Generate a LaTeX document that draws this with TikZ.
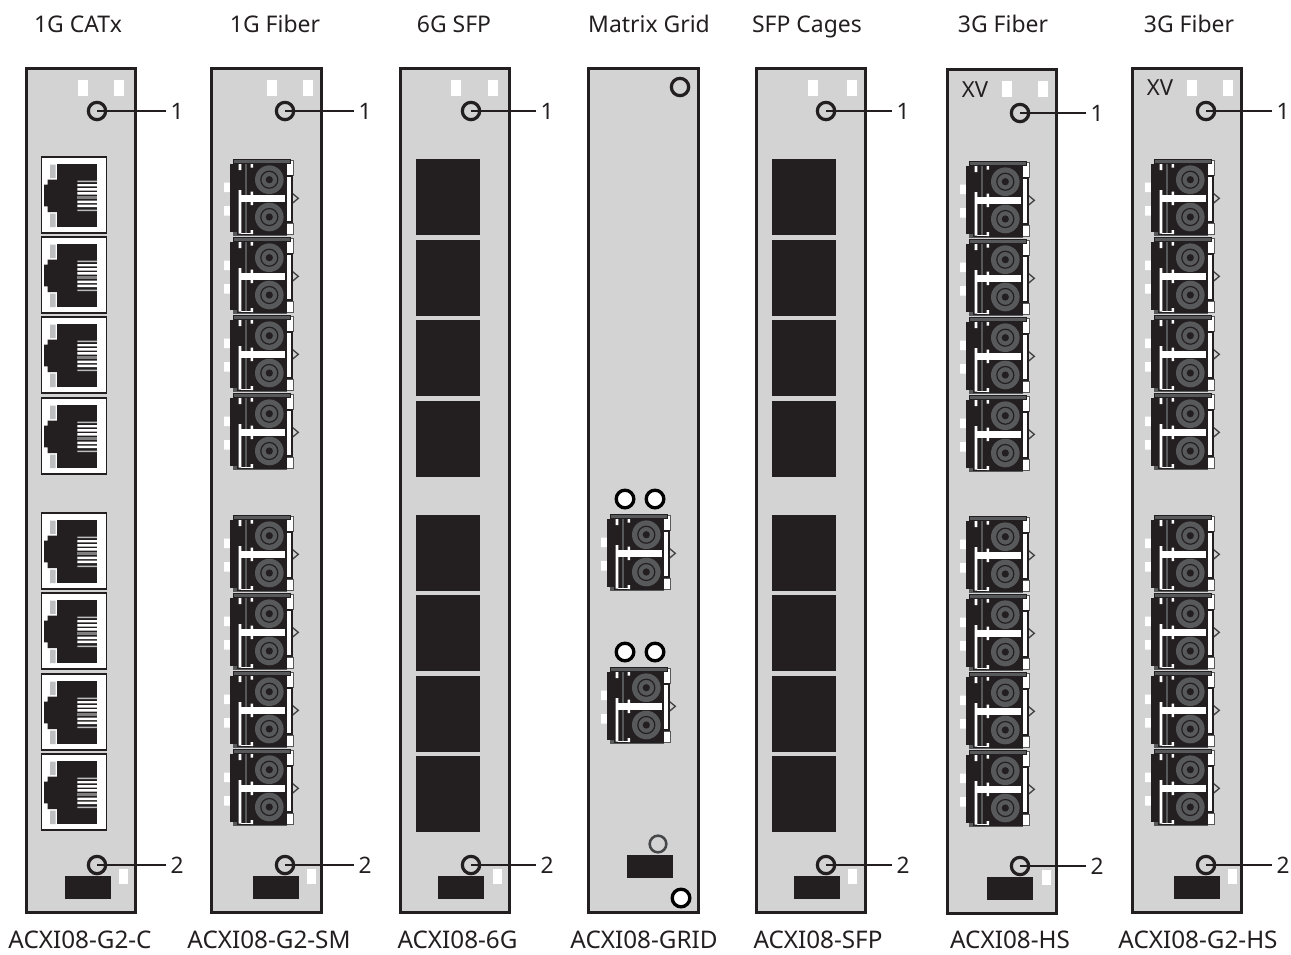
\documentclass[tikz,border=0pt]{standalone}
\usepackage{fontspec}
\setmainfont{Noto Sans}
\definecolor{pnl}{HTML}{D3D3D3}
\definecolor{blk}{HTML}{231F20}
\definecolor{gry}{HTML}{58595B}
\definecolor{lgr}{HTML}{BCBEC0}
\tikzset{
  panelbox/.style={draw=blk,fill=pnl,line width=2.25pt},
  marker/.style={circle,draw=blk,fill=pnl,line width=2.4pt,minimum size=13pt,inner sep=0pt},
  ringw/.style={circle,draw=black,fill=white,line width=2.5pt,minimum size=13.2pt,inner sep=0pt},
  ringg/.style={circle,draw=gry!80!black,fill=pnl,line width=1.9pt,minimum size=12.5pt,inner sep=0pt},
  callout/.style={draw=blk,line width=1.9pt,shorten >=1.5pt},
  txt/.style={text=blk,inner sep=0pt,text height=12.5pt,text depth=0pt},
  toptxt/.style={txt,font=\fontsize{17.2pt}{20pt}\selectfont},
  bottxt/.style={txt,font=\fontsize{18.2pt}{20pt}\selectfont},
  xvtxt/.style={text=blk,inner sep=0pt,font=\fontsize{16.6pt}{20pt}\selectfont},
  num/.style={font=\fontsize{17pt}{20pt}\selectfont,text=blk,inner sep=2pt},
}
% fibre duplex module, origin = top-left of its left bar
\newcommand\fibermod[2]{%
\begin{scope}[shift={(#1,#2)}]
  \fill[white] (-6,23.5) rectangle (0,33) (-6,47) rectangle (0,56.5);
  \draw[fill=white,draw=gry,line width=.7pt] (56.5,1) rectangle (63.7,16);
  \draw[fill=white,draw=gry,line width=.7pt] (56.5,64) rectangle (63.7,75.5);
  \draw[fill=pnl,draw=blk!85,line width=1pt] (61.5,33.7) -- (68.3,39.3) -- (61.5,45) -- cycle;
  \fill[gry] (2.5,5) rectangle (57,76.5);
  \fill[blk] (6.7,5) rectangle (56.8,75.9);
  \fill[gry] (14.7,5) rectangle (17,73.5);
  \fill[white] (8.7,5) rectangle (11.3,11) (8.7,31) rectangle (11.3,74.5);
  \fill[white] (20.7,5) rectangle (23,8.7) (20.7,32.7) rectangle (23,46) (20.7,71) rectangle (23,75);
  \fill[white] (11.3,73.7) rectangle (23,75.2);
  \fill[white] (11.3,36) rectangle (55.3,42.7);
  \foreach \cy in {20.7,58}{
    \fill[gry] (39.3,\cy) circle[radius=14.3];
    \draw[blk,line width=.9pt] (39.3,\cy) circle[radius=8.5];
    \fill[blk] (39.3,\cy) circle[radius=3.6];
  }
  \fill[blk] (0,5) rectangle (6.7,72.7);
  \draw[fill=gry,draw=blk,line width=.7pt] (3.2,0.3) rectangle (60.5,4.3);
  \draw[fill=white,draw=blk,line width=1pt] (56,17) rectangle (62,63);
\end{scope}}
% RJ45 module
\newcommand\rjmod[2]{%
\begin{scope}[shift={(#1,#2)}]
  \draw[fill=white,draw=blk,line width=1.1pt] (0,0) rectangle (65,76);
  \fill[blk] (15,7) rectangle (55.6,70.3);
  \fill[blk] (15.5,22.6) -- (6,22.6) -- (6,27.6) -- (2.3,27.6) -- (2.3,49.3) -- (6,49.3) -- (6,55) -- (15.5,55) -- cycle;
  \fill[lgr] (8.3,7.7) rectangle (14,21) (8.3,56.7) rectangle (14,70);
  \fill[lgr] (35.7,23.7) rectangle (55.5,25) (35.7,52.7) rectangle (55.5,54);
  \fill[gray] (35.7,39.3) rectangle (55.5,42);
  \fill[white] (35.7,27) rectangle (55.5,29.3) (35.7,31) rectangle (55.5,33.7) (35.7,35) rectangle (55.5,37.7)
               (35.7,43.7) rectangle (55.5,46) (35.7,47.7) rectangle (55.5,50);
\end{scope}}
\begin{document}
\begin{tikzpicture}[x=.75pt,y=-.75pt]
\useasboundingbox (0,0) rectangle (1291,954);
% ---- panels
\foreach \a/\b/\t/\e in {26/135/68/912,211/321/68/912,400/509/68/912,588/698/68/912,756/865/68/912,947/1056/69/913,1132/1241/68/912}{
  \draw[panelbox] (\a,\t) rectangle (\b,\e);
}
% ---- top/bottom white tabs and bottom black tabs
\foreach \wa/\wb/\r/\w/\s in {78/114/65/119/0,267/303/253/307/0,451/488/438/493/0,808/847/794/848/0,1002/1038/987/1042/1,1187/1223/1174/1228/0}{
  \fill[white] (\wa,{80+\s}) rectangle (\wa+9.5,{96+\s});
  \fill[white] (\wb,{80+\s}) rectangle (\wb+9.5,{96+\s});
  \fill[blk] (\r,{876+\s}) rectangle (\r+46,{899+\s});
  \fill[white] (\w,{869+\s}) rectangle (\w+9,{884+\s});
}
% ---- RJ45
\foreach \y in {157,237,317,398,513,593,674,754}{\rjmod{41.7}{\y}}
% ---- fibre
\foreach \y in {159,237,315,393,515,593,671,749}{\fibermod{230}{\y}}
\foreach \y in {161,239,317,395,516,594,672,750}{\fibermod{966}{\y}}
\foreach \y in {159,237,315,393,515,593,671,749}{\fibermod{1151}{\y}}
\fibermod{607}{514}
\fibermod{607}{667}
% ---- SFP cages
\foreach \x in {416,772}{
  \foreach \y/\h in {159/235,240/316,320/396,401/477,515/591,595/671,676/752,756/832}{
    \fill[blk] (\x,\y) rectangle (\x+64,\h);
  }
}
% ---- matrix grid bits
\fill[blk] (627,855) rectangle (673,878);
\node[marker] (g0) at (680,87) {};
\node[ringw] (g1) at (625,499) {};
\node[ringw] (g2) at (655,499) {};
\node[ringw] (g3) at (625,652) {};
\node[ringw] (g4) at (655,652) {};
\node[ringg] (g5) at (658,844) {};
\node[ringw] (g6) at (681,898) {};
% ---- callouts
\foreach \id/\x/\ya/\yb/\lx in {a/97/111/865/177,b/285/111/865/365,c/471/111/865/547,d/826/111/865/903,e/1020/113/866/1097,f/1206/111/865/1283}{
  \node[marker] (m\id1) at (\x,\ya) {};
  \node[marker] (m\id2) at (\x,\yb) {};
  \node[num] (l\id1) at (\lx,\ya) {1};
  \node[num] (l\id2) at (\lx,\yb) {2};
  \draw[callout] (m\id1.center) -- (m\id1.center -| l\id1.west);
  \draw[callout] (m\id2.center) -- (m\id2.center -| l\id2.west);
}
% ---- texts
\node[xvtxt] (xv1) at (975,90) {XV};
\node[xvtxt] (xv2) at (1160,88) {XV};
\foreach \x/\s [count=\i] in {78/1G CATx,275/1G Fiber,454/6G SFP,649/Matrix Grid,807/SFP Cages,1003/3G Fiber,1189/3G Fiber}{
  \node[toptxt] (top\i) at (\x,24) {\s};
}
\foreach \x/\s [count=\i] in {80/ACXI08-G2-C,269/ACXI08-G2-SM,457.5/ACXI08-6G,644/ACXI08-GRID,818/ACXI08-SFP,1010/ACXI08-HS,1198/ACXI08-G2-HS}{
  \node[bottxt] (bot\i) at (\x,940) {\s};
}
\end{tikzpicture}
\end{document}
